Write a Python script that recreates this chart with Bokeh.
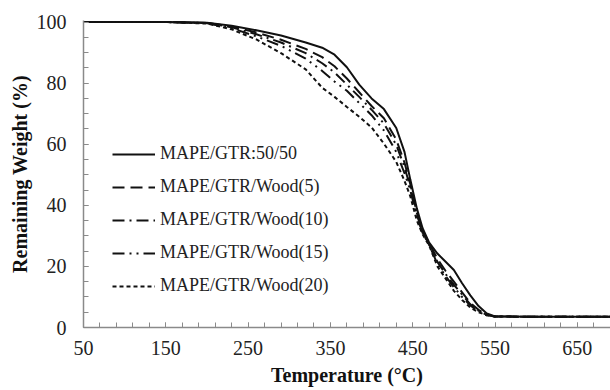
from bokeh.plotting import figure
from bokeh.models import Range1d, FixedTicker, Legend, LegendItem
from bokeh.embed import file_html
from bokeh.resources import INLINE

temps = [50, 150, 200, 230, 260, 290, 320, 340, 355, 370, 385, 400, 415, 430, 440,
         447, 455, 462, 470, 480, 490, 500, 510, 520, 530, 540, 550, 600, 700]
w_5050 = [100, 100, 99.8, 98.8, 97.3, 95.6, 93.3, 91.6, 89.3, 85.2, 79.5, 75.0, 71.5, 65.3, 57.5,
          48.5, 39.0, 32.5, 27.8, 24.2, 21.5, 18.8, 14.5, 10.5, 7.0, 4.6, 3.6, 3.5, 3.5]
w_wood5 = [100, 100, 99.7, 98.5, 96.6, 94.2, 91.2, 88.5, 85.5, 81.5, 77.0, 72.5, 68.5, 61.5, 54.0,
           47.0, 37.5, 31.5, 27.5, 22.5, 18.5, 15.0, 11.5, 8.0, 5.8, 4.2, 3.6, 3.5, 3.5]
w_wood10 = [100, 100, 99.7, 98.3, 96.0, 93.3, 89.8, 86.5, 83.5, 79.5, 75.5, 71.3, 66.8, 59.8, 52.5,
            46.0, 37.0, 31.2, 27.3, 21.5, 17.5, 14.0, 10.8, 7.6, 5.5, 4.1, 3.6, 3.5, 3.5]
w_wood15 = [100, 100, 99.6, 98.0, 95.3, 92.2, 88.0, 84.0, 80.5, 77.5, 73.5, 69.5, 64.5, 57.5, 50.5,
            45.0, 36.3, 31.0, 27.0, 20.8, 16.8, 13.2, 10.0, 7.2, 5.3, 4.0, 3.6, 3.5, 3.5]
w_wood20 = [100, 100, 99.5, 97.6, 94.3, 89.8, 84.5, 78.5, 75.5, 72.2, 69.0, 65.5, 60.2, 54.2, 48.0,
            43.0, 35.0, 30.5, 26.8, 20.0, 16.0, 12.0, 9.0, 6.5, 5.0, 4.0, 3.6, 3.5, 3.5]

labels = ["MAPE/GTR:50/50", "MAPE/GTR/Wood(5)", "MAPE/GTR/Wood(10)",
          "MAPE/GTR/Wood(15)", "MAPE/GTR/Wood(20)"]
x_ticks = [50, 150, 250, 350, 450, 550, 650]
y_ticks = [0, 20, 40, 60, 80, 100]

series = [w_5050, w_wood5, w_wood10, w_wood15, w_wood20]
dashes = ["solid", "12 6", "12 5 2 5", "12 5 2 5 2 5", "4 3"]

p = figure(width=610, height=390, output_backend="svg", toolbar_location=None,
           x_range=Range1d(50, 690.3), y_range=Range1d(0, 100.5),
           min_border_left=83, min_border_right=0, min_border_top=20, min_border_bottom=63)
p.outline_line_color = None
p.xgrid.visible = False
p.ygrid.visible = False
p.background_fill_color = "white"
p.border_fill_color = "white"

items = []
for lab, ys, d in zip(labels, series, dashes):
    r = p.line(temps, ys, line_color="#111111", line_width=2, line_dash=d)
    items.append(LegendItem(label=lab, renderers=[r]))

font = "Liberation Serif"
for ax in (p.xaxis[0], p.yaxis[0]):
    ax.axis_line_color = "#8a8a8a"
    ax.axis_line_width = 1.5
    ax.major_tick_line_color = "#8a8a8a"
    ax.minor_tick_line_color = "#8a8a8a"
    ax.major_tick_in = 5
    ax.major_tick_out = 0
    ax.minor_tick_in = 5
    ax.minor_tick_out = 0
    ax.major_label_text_font = font
    ax.major_label_text_font_size = "20px"
    ax.major_label_text_color = "#222222"
    ax.axis_label_text_font = font
    ax.axis_label_text_font_size = "20px"
    ax.axis_label_text_font_style = "bold"
    ax.axis_label_text_color = "#111111"

p.xaxis.ticker = FixedTicker(ticks=x_ticks, minor_ticks=list(range(50, 700, 20)))
p.yaxis.ticker = FixedTicker(ticks=y_ticks, minor_ticks=list(range(0, 101, 5)))
p.xaxis.axis_label = "Temperature (°C)"
p.yaxis.axis_label = "Remaining Weight (%)"
p.xaxis.major_label_standoff = 13
p.yaxis.major_label_standoff = 17
p.xaxis.axis_label_standoff = 6
p.yaxis.axis_label_standoff = 3

legend = Legend(items=items, location=(29, 31))
legend.background_fill_alpha = 0
legend.border_line_color = None
legend.padding = 0
legend.margin = 0
legend.glyph_width = 43
legend.glyph_height = 20
legend.label_height = 20
legend.spacing = 12
legend.label_standoff = 5
legend.label_text_font = font
legend.label_text_font_size = "18px"
legend.label_text_color = "#222222"
p.add_layout(legend, "center")

open("out.html", "w").write(file_html(p, INLINE))
